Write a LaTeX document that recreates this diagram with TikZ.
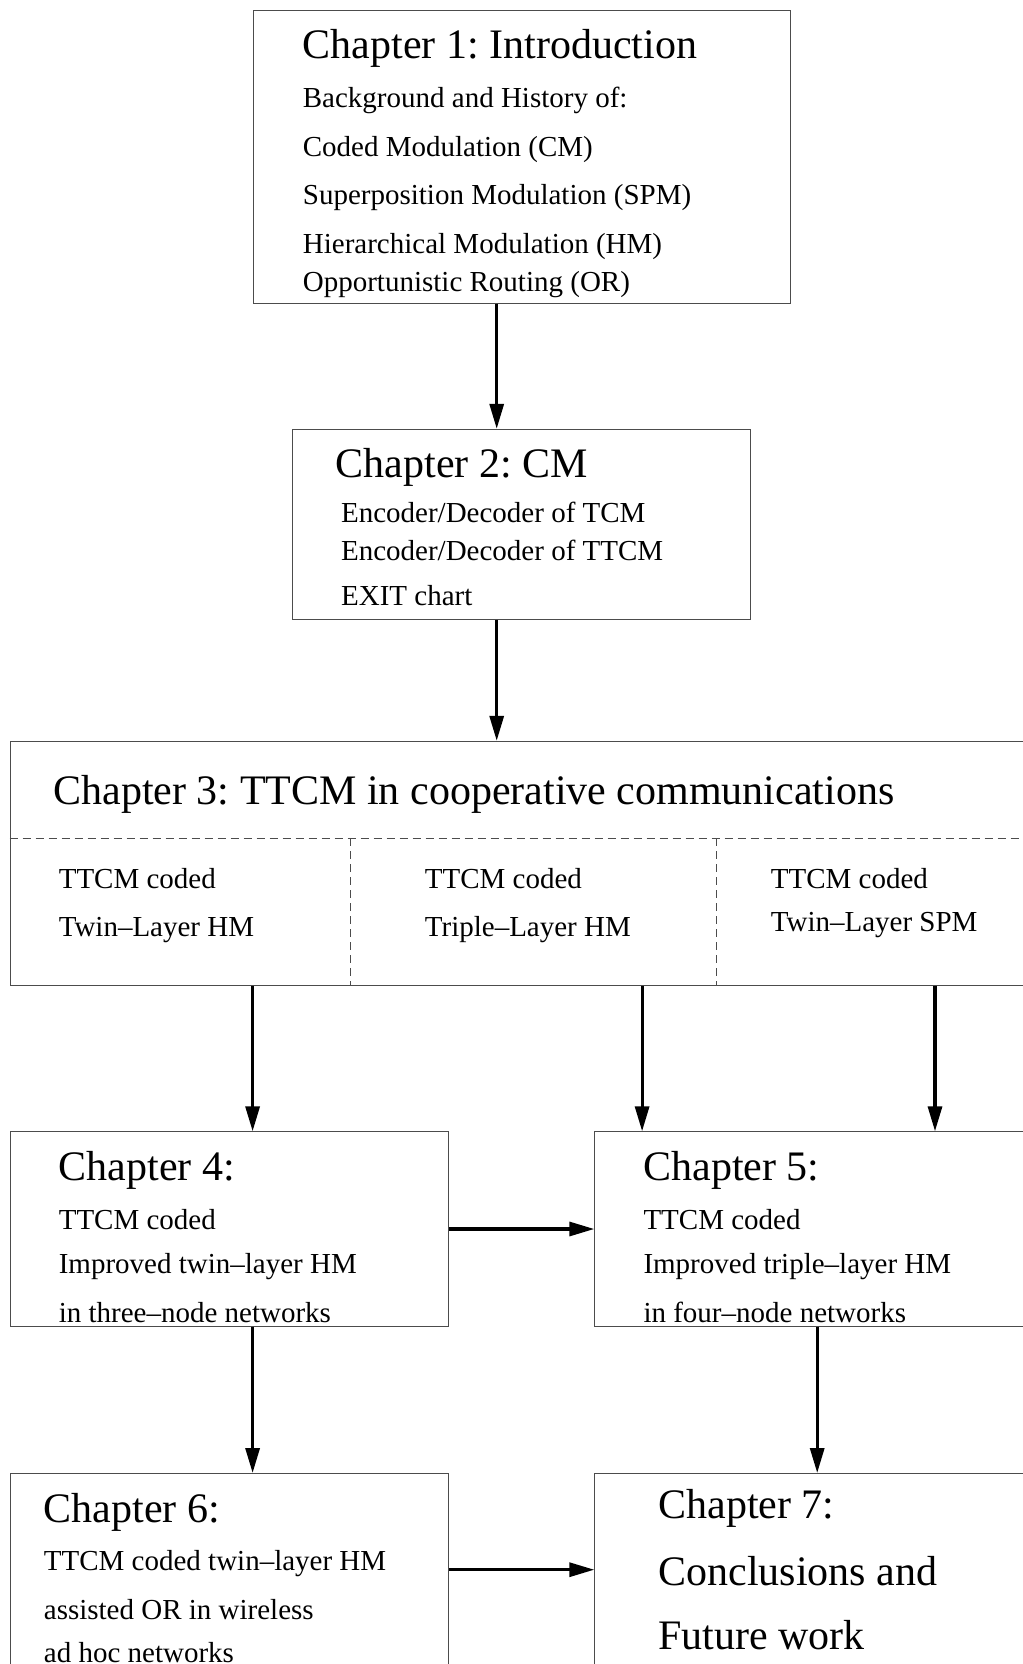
\documentclass[tikz,border=0pt]{standalone}
\usepackage{fontspec}
\setmainfont{Liberation Serif}
\usetikzlibrary{arrows.meta}
\frenchspacing

\tikzset{
  box/.style={draw=black!70, line width=0.5pt, rectangle, anchor=north west, inner sep=0pt},
  arr/.style={line width=1.6pt, -{Triangle[length=12.5pt,width=7pt]}},
  sep/.style={draw=black!70, line width=0.4pt, dash pattern=on 4pt off 2.5pt},
  big/.style={anchor=base west, inner sep=0pt, font=\fontsize{21}{25}\selectfont},
  small/.style={anchor=base west, inner sep=0pt, font=\fontsize{14.5}{17}\selectfont}
}

\begin{document}
\begin{tikzpicture}[x=0.5pt,y=-0.5pt]
  \useasboundingbox (0,0) rectangle (1022,1664);
  %Chapter boxes
  \node[box, minimum width=268.5pt, minimum height=146.5pt] (c1) at (252.6,9.6) {};
  \node[box, minimum width=229.2pt, minimum height=95pt] (c2) at (291.9,428.8) {};
  \node[box, minimum width=515.2pt, minimum height=122pt] (c3) at (9.6,740.8) {};
  \node[box, minimum width=219.2pt, minimum height=97.2pt] (c4) at (9.6,1131.3) {};
  \node[box, minimum width=222.9pt, minimum height=97.2pt] (c5) at (594.3,1131.3) {};
  \node[box, minimum width=219.2pt, minimum height=108.5pt] (c6) at (9.6,1473) {};
  \node[box, minimum width=222.9pt, minimum height=108.5pt] (c7) at (594.3,1473) {};

  %Separators in chapter 3
  \coordinate (d0) at (9.6,838.4);
  \coordinate (d1) at (350.2,838.4);
  \coordinate (d2) at (716.4,838.4);
  \draw[sep] (d0) -- (d0 -| c3.east);
  \draw[sep] (d1) -- (d1 |- c3.south);
  \draw[sep] (d2) -- (d2 |- c3.south);

  %Texts
  \node[big] (t1) at (302.5,58.6) {Chapter 1: Introduction};
  \node[small] (t1a) at (302.5,107.2) {Background and History of:};
  \node[small] (t1b) at (302.5,156.1) {Coded Modulation (CM)};
  \node[small] (t1c) at (302.5,204.9) {Superposition Modulation (SPM)};
  \node[small] (t1d) at (302.5,253.7) {Hierarchical Modulation (HM)};
  \node[small] (t1e) at (302.5,291.9) {Opportunistic Routing (OR)};

  \node[big] (t2) at (335.4,477.8) {Chapter 2: CM};
  \node[small] (t2a) at (340.7,522.2) {Encoder/Decoder of TCM};
  \node[small] (t2b) at (340.7,560.4) {Encoder/Decoder of TTCM};
  \node[small] (t2c) at (340.7,605) {EXIT chart};

  \node[big] (t3) at (53,804.7) {Chapter 3: TTCM in cooperative communications};
  \node[small] (t3a) at (58.4,888.4) {TTCM coded};
  \node[small] (t3b) at (58.4,936.1) {Twin--Layer HM};
  \node[small] (t3c) at (424.5,888.4) {TTCM coded};
  \node[small] (t3d) at (424.5,936.1) {Triple--Layer HM};
  \node[small] (t3e) at (770.5,888.4) {TTCM coded};
  \node[small] (t3f) at (770.5,931.9) {Twin--Layer SPM};

  \node[big] (t4) at (58.4,1180.4) {Chapter 4:};
  \node[small] (t4a) at (58.4,1229) {TTCM coded};
  \node[small] (t4b) at (58.4,1273.6) {Improved twin--layer HM};
  \node[small] (t4c) at (58.4,1322.4) {in three--node networks};

  \node[big] (t5) at (643.1,1180.4) {Chapter 5:};
  \node[small] (t5a) at (643.1,1229) {TTCM coded};
  \node[small] (t5b) at (643.1,1273.6) {Improved triple--layer HM};
  \node[small] (t5c) at (643.1,1322.4) {in four--node networks};

  \node[big] (t6) at (43.5,1522) {Chapter 6:};
  \node[small] (t6a) at (43.5,1570.8) {TTCM coded twin--layer HM};
  \node[small] (t6b) at (43.5,1619.6) {assisted OR in wireless};
  \node[small] (t6c) at (43.5,1662) {ad hoc networks};

  \node[big] (t7) at (658,1518) {Chapter 7:};
  \node[big] (t7a) at (658,1585.8) {Conclusions and};
  \node[big] (t7b) at (658,1649.5) {Future work};

  %Arrows
  \coordinate (a1) at (496.7,0);
  \coordinate (a3) at (252.6,0);
  \coordinate (a4) at (642.1,0);
  \coordinate (a5) at (935,0);
  \coordinate (a8) at (817.2,0);
  \coordinate (h1) at (0,1229);
  \coordinate (h2) at (0,1569.7);
  \draw[arr] (c1.south -| a1) -- (c2.north -| a1);
  \draw[arr] (c2.south -| a1) -- (c3.north -| a1);
  \draw[arr] (c3.south -| a3) -- (c4.north -| a3);
  \draw[arr] (c3.south -| a4) -- (c5.north -| a4);
  \draw[arr] (c3.south -| a5) -- (c5.north -| a5);
  \draw[arr] (c4.east |- h1) -- (c5.west |- h1);
  \draw[arr] (c4.south -| a3) -- (c6.north -| a3);
  \draw[arr] (c5.south -| a8) -- (c7.north -| a8);
  \draw[arr] (c6.east |- h2) -- (c7.west |- h2);
\end{tikzpicture}
\end{document}
